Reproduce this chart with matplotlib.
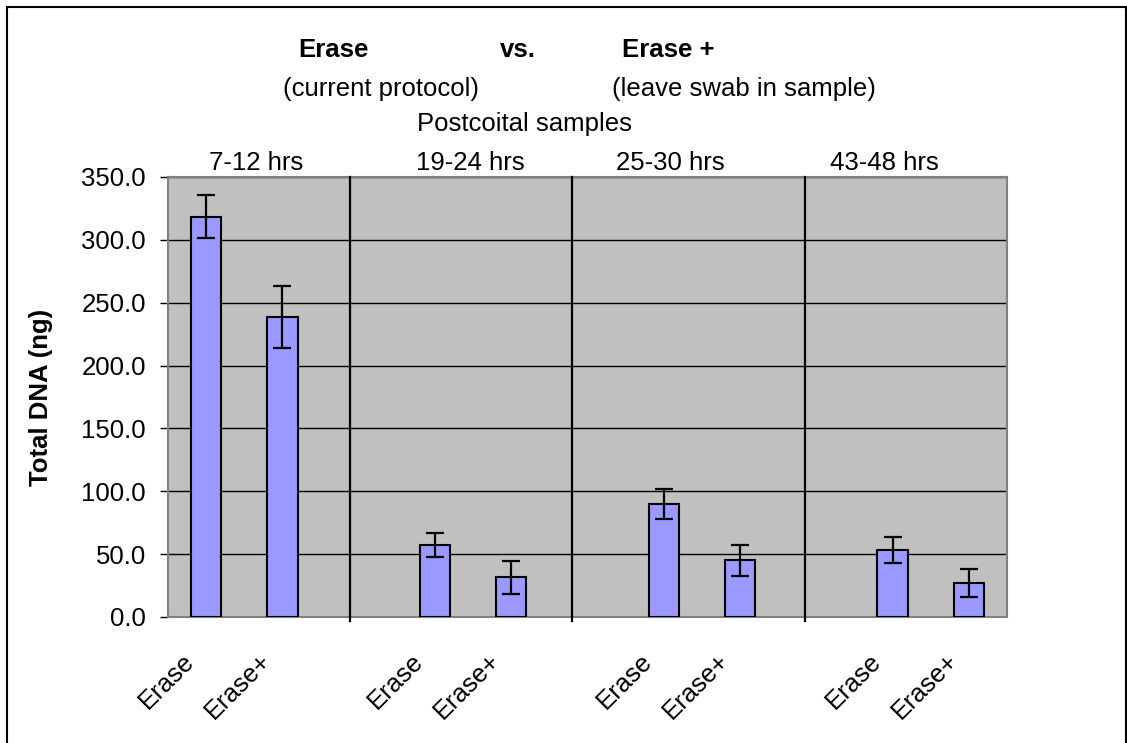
import matplotlib.pyplot as plt
import matplotlib.transforms as mtransforms
from matplotlib.patches import Rectangle

plt.rcParams["font.family"] = ["Liberation Sans", "DejaVu Sans"]

# data
categories = ["Erase", "Erase+", "Erase", "Erase+", "Erase", "Erase+", "Erase", "Erase+"]
positions = [0, 1, 3, 4, 6, 7, 9, 10]
total_dna = [318.5, 238.5, 57.0, 31.5, 90.0, 45.0, 53.5, 27.0]
std_err = [17.0, 24.5, 9.5, 13.4, 11.7, 12.6, 10.2, 11.0]
groups = ["7-12 hrs", "19-24 hrs", "25-30 hrs", "43-48 hrs"]
group_label_x = [0.66, 3.46, 6.09, 8.89]
separator_x = [1.89, 4.80, 7.85]
yticks = [0, 50, 100, 150, 200, 250, 300, 350]

W, H = 1127, 743
FS = 18.5


def fx(x):
    return x / W


def fy(y):
    return 1 - y / H


fig = plt.figure(figsize=(W / 100, H / 100), dpi=100)
ax = fig.add_axes([fx(168), fy(617), (1007 - 168) / W, (617 - 177) / H])

ax.set_facecolor("#c0c0c0")
ax.bar(positions, total_dna, width=0.4, color="#9999ff", edgecolor="black",
       linewidth=1.5, zorder=3)
ax.errorbar(positions, total_dna, yerr=std_err, fmt="none", ecolor="black",
            elinewidth=1.6, capsize=6.5, capthick=1.6, zorder=4)

ax.set_xlim(-0.5, 10.5)
ax.set_ylim(0, 350)
ax.set_yticks(yticks)
ax.set_yticklabels([f"{v:.1f}" for v in yticks], fontsize=FS)
ax.tick_params(axis="y", length=6, width=1, pad=10, color="black")
ax.set_xticks([])
ax.yaxis.grid(True, color="black", linewidth=1)
ax.set_axisbelow(True)
for sp in ax.spines.values():
    sp.set_color("#808080")
    sp.set_linewidth(1.5)

# group separators
sep_tr = mtransforms.blended_transform_factory(ax.transData, ax.transAxes)
for sx in separator_x:
    ax.plot([sx, sx], [-0.008, 1.0], color="black", linewidth=1.6,
            transform=sep_tr, clip_on=False, zorder=5)

# rotated category labels
lab_tr = mtransforms.offset_copy(sep_tr, fig=fig, x=-11, y=-29, units="points")
for p, c in zip(positions, categories):
    ax.text(p, 0, c, transform=lab_tr, rotation=45, rotation_mode="anchor",
            ha="right", va="center", fontsize=FS)

# group labels above the plot
for gx, g in zip(group_label_x, groups):
    ax.text(gx, fy(170), g, transform=mtransforms.blended_transform_factory(
        ax.transData, fig.transFigure), ha="center", va="baseline", fontsize=FS)

# titles
fig.text(fx(298), fy(57), "Erase", fontsize=FS, fontweight="bold", va="baseline")
fig.text(fx(500), fy(57), "vs.", fontsize=FS, fontweight="bold", va="baseline")
fig.text(fx(622), fy(57), "Erase +", fontsize=FS, fontweight="bold", va="baseline")
fig.text(fx(283), fy(96), "(current protocol)", fontsize=FS, va="baseline")
fig.text(fx(612), fy(96), "(leave swab in sample)", fontsize=FS, va="baseline")
fig.text(fx(417), fy(131), "Postcoital samples", fontsize=FS, va="baseline")

fig.text(fx(41), fy(397), "Total DNA (ng)", fontsize=FS, fontweight="bold",
         rotation=90, ha="center", va="center")

# outer chart border
fig.add_artist(Rectangle((fx(7), -0.05), fx(1126) - fx(7), fy(7) + 0.05,
                         transform=fig.transFigure, fill=False,
                         edgecolor="black", linewidth=1.5))

fig.savefig("out.png", dpi=100)
